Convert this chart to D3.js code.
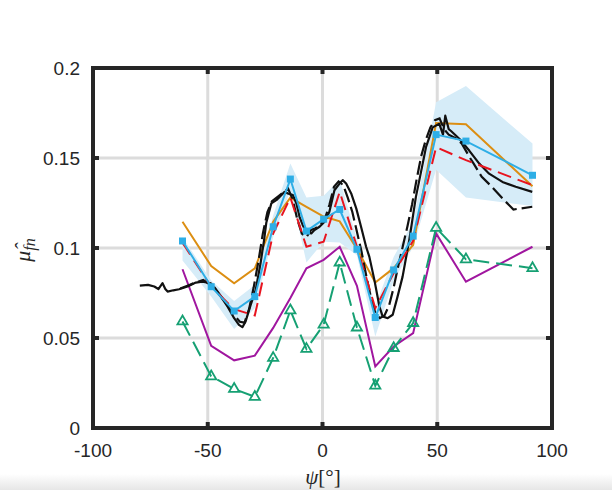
<!DOCTYPE html>
<html>
<head>
<meta charset="utf-8">
<script src="https://cdn.jsdelivr.net/npm/d3@7"></script>
<style>
  body { margin: 0; background: #fff; }
  text { font-family: "Liberation Sans", Arial, sans-serif; fill: #262626; }
</style>
</head>
<body>
<svg id="chart" width="612" height="490"></svg>
<script>
// angles shared by the model series
const psi = [-61, -48.5, -38.5, -29.5, -21.5, -14, -7, 0.5, 7.5, 15, 23, 31, 39.5, 49.5, 62.5, 91.5];

const cyanMean  = [0.1039, 0.0785, 0.065, 0.073, 0.1118, 0.1383, 0.1094, 0.1160, 0.1214, 0.0993, 0.0614, 0.0878, 0.1066, 0.1630, 0.1594, 0.1404];
const bandUpper = [0.106, 0.082, 0.0705, 0.0795, 0.118, 0.147, 0.128, 0.129, 0.138, 0.105, 0.0675, 0.095, 0.1146, 0.181, 0.190, 0.158];
const bandLower = [0.093, 0.073, 0.055, 0.0665, 0.106, 0.132, 0.092, 0.1035, 0.103, 0.096, 0.0508, 0.082, 0.1005, 0.1435, 0.128, 0.1233];
const orange    = [0.1146, 0.09, 0.0804, 0.0887, 0.1146, 0.128, 0.1229, 0.1175, 0.1148, 0.0995, 0.0808, 0.0888, 0.1017, 0.1694, 0.1687, 0.1343];
const purple    = [0.0882, 0.0457, 0.0376, 0.0402, 0.0556, 0.0722, 0.0887, 0.0934, 0.1007, 0.079, 0.0342, 0.0453, 0.0527, 0.1081, 0.0813, 0.1007];
const green     = [0.0592, 0.0287, 0.0217, 0.0173, 0.0389, 0.0653, 0.0439, 0.0574, 0.0919, 0.0558, 0.0235, 0.0444, 0.0583, 0.1112, 0.0937, 0.0888];
const red       = [0.1029, 0.0785, 0.066, 0.0625, 0.108, 0.128, 0.1007, 0.1035, 0.1312, 0.1007, 0.0666, 0.086, 0.104, 0.156, 0.1488, 0.1349];

// measured traces (black)
const measAx = [-79.6, -76, -73.3, -71.5, -69.7, -68.5, -67.5, -65, -62.5, -58.8, -55.2, -52.3, -48.7, -44.3, -41.4, -38.5, -36.4, -34.9, -33.5, -31.3, -29.1, -27, -25.5, -24.5, -22.3, -20.1, -18.7, -16.5, -15.1, -12.9, -11.4, -10, -8.6, -7.1, -4.9, -3.5, -1.3, 0.9, 3, 5.2, 7.4, 8.8, 10.3, 12.5, 14.7, 16.8, 19, 20.4, 22.6, 24.8, 26.2, 28.4, 30.6, 32.7, 34.9, 37.8, 40.7, 42.2, 45.1, 48, 50.9, 52.5, 53.5, 55, 56, 59.6, 64, 68.3, 72.6, 78.4, 84.2, 91.4];
const measAy = [0.0791, 0.0795, 0.0786, 0.0772, 0.0805, 0.0772, 0.0758, 0.0765, 0.0771, 0.0786, 0.0808, 0.0813, 0.0804, 0.073, 0.0675, 0.061, 0.0573, 0.056, 0.0592, 0.0684, 0.0767, 0.0915, 0.104, 0.114, 0.1248, 0.1266, 0.1284, 0.1312, 0.1303, 0.1294, 0.1248, 0.1173, 0.1127, 0.109, 0.1081, 0.11, 0.1118, 0.1146, 0.1201, 0.1321, 0.1358, 0.1377, 0.1358, 0.1303, 0.122, 0.1118, 0.1007, 0.0952, 0.0823, 0.0675, 0.062, 0.061, 0.0629, 0.073, 0.0841, 0.1044, 0.1284, 0.1377, 0.156, 0.167, 0.169, 0.163, 0.1735, 0.166, 0.165, 0.1607, 0.154, 0.1469, 0.1413, 0.1367, 0.134, 0.1312];

const measBx = [-62, -58, -55, -52, -47, -43, -39, -36, -34, -32, -30, -28, -26, -24, -22, -19, -17, -15, -13, -11, -9, -7, -5, -3, -1, 1, 3, 5, 7, 9, 11, 13, 15, 17, 19, 21, 23, 25, 27, 29, 31, 33, 35, 37, 39, 41, 43, 45, 47, 49, 51, 53, 55, 58, 60.7, 64.3, 65.8, 69.4, 73.8, 78.8, 83.2, 91.4];
const measBy = [0.0775, 0.0795, 0.081, 0.0822, 0.078, 0.071, 0.0635, 0.059, 0.0585, 0.066, 0.078, 0.092, 0.108, 0.12, 0.126, 0.129, 0.131, 0.133, 0.127, 0.116, 0.108, 0.106, 0.11, 0.111, 0.113, 0.116, 0.124, 0.134, 0.137, 0.135, 0.128, 0.12, 0.109, 0.098, 0.085, 0.073, 0.064, 0.061, 0.0625, 0.068, 0.078, 0.09, 0.101, 0.112, 0.124, 0.138, 0.151, 0.16, 0.167, 0.171, 0.172, 0.166, 0.163, 0.161, 0.158, 0.150, 0.147, 0.1395, 0.134, 0.127, 0.1214, 0.1229];

const xTicks = [-100, -50, 0, 50, 100];
const yTicks = [0, 0.05, 0.1, 0.15, 0.2];

const svg = d3.select("#chart");
const x = d3.scaleLinear().domain([-100, 100]).range([93, 552]);
const y = d3.scaleLinear().domain([0, 0.2]).range([428, 68]);

// faint shadow band at the bottom edge
const grad = svg.append("defs").append("linearGradient")
  .attr("id", "shade").attr("x1", 0).attr("y1", 0).attr("x2", 0).attr("y2", 1);
grad.append("stop").attr("offset", 0).attr("stop-color", "#fff");
grad.append("stop").attr("offset", 1).attr("stop-color", "#e6e6e6");
svg.append("rect").attr("x", 0).attr("y", 474).attr("width", 612).attr("height", 16)
  .attr("fill", "url(#shade)");

// grid
const grid = svg.append("g");
grid.selectAll("line.gx").data(xTicks.slice(1, -1)).enter().append("line")
  .attr("x1", d => x(d)).attr("x2", d => x(d)).attr("y1", y(0)).attr("y2", y(0.2))
  .attr("stroke", "#dcdcdc").attr("stroke-width", 3);
grid.selectAll("line.gy").data(yTicks.slice(1, -1)).enter().append("line")
  .attr("y1", d => y(d)).attr("y2", d => y(d)).attr("x1", x(-100)).attr("x2", x(100))
  .attr("stroke", "#dcdcdc").attr("stroke-width", 3);

const idx = d3.range(psi.length);
const line = (vals) => d3.line().x(i => x(psi[i])).y(i => y(vals[i]))(idx);

// spread band
const area = d3.area().x(i => x(psi[i])).y0(i => y(bandLower[i])).y1(i => y(bandUpper[i]));
svg.append("path").attr("d", area(idx)).attr("fill", "#d6ecf8");

svg.append("path").attr("d", line(purple)).attr("fill", "none")
  .attr("stroke", "#a0169f").attr("stroke-width", 2);

svg.append("path").attr("d", line(green)).attr("fill", "none")
  .attr("stroke", "#16a073").attr("stroke-width", 2).attr("stroke-dasharray", "16,7");
svg.selectAll("path.tri").data(idx).enter().append("path")
  .attr("class", "tri")
  .attr("d", d3.symbol().type(d3.symbolTriangle).size(45))
  .attr("transform", i => `translate(${x(psi[i])},${y(green[i])})`)
  .attr("fill", "none").attr("stroke", "#16a073").attr("stroke-width", 1.8);

svg.append("path").attr("d", line(orange)).attr("fill", "none")
  .attr("stroke", "#dc8e12").attr("stroke-width", 2);

const meas = d3.line().x(d => x(d[0])).y(d => y(d[1]));
svg.append("path").attr("d", meas(d3.zip(measAx, measAy))).attr("fill", "none")
  .attr("stroke", "#111").attr("stroke-width", 2.2).attr("stroke-linejoin", "round");
svg.append("path").attr("d", meas(d3.zip(measBx, measBy))).attr("fill", "none")
  .attr("stroke", "#111").attr("stroke-width", 2.2).attr("stroke-dasharray", "14,5");

svg.append("path").attr("d", line(red)).attr("fill", "none")
  .attr("stroke", "#e8141f").attr("stroke-width", 2).attr("stroke-dasharray", "14,7");

svg.append("path").attr("d", line(cyanMean)).attr("fill", "none")
  .attr("stroke", "#2eaee6").attr("stroke-width", 2);
svg.selectAll("rect.sq").data(idx).enter().append("rect")
  .attr("class", "sq")
  .attr("x", i => x(psi[i]) - 3.5).attr("y", i => y(cyanMean[i]) - 3.5)
  .attr("width", 7).attr("height", 7).attr("fill", "#2eaee6");

// frame and ticks
const frame = svg.append("g");
frame.append("rect").attr("x", x(-100)).attr("y", y(0.2))
  .attr("width", x(100) - x(-100)).attr("height", y(0) - y(0.2))
  .attr("fill", "none").attr("stroke", "#262626").attr("stroke-width", 4);
xTicks.slice(1, -1).forEach(t => {
  frame.append("line").attr("x1", x(t)).attr("x2", x(t)).attr("y1", y(0)).attr("y2", y(0) - 6)
    .attr("stroke", "#262626").attr("stroke-width", 4);
  frame.append("line").attr("x1", x(t)).attr("x2", x(t)).attr("y1", y(0.2)).attr("y2", y(0.2) + 6)
    .attr("stroke", "#262626").attr("stroke-width", 4);
});
yTicks.slice(1, -1).forEach(t => {
  frame.append("line").attr("x1", x(-100)).attr("x2", x(-100) + 6).attr("y1", y(t)).attr("y2", y(t))
    .attr("stroke", "#262626").attr("stroke-width", 4);
  frame.append("line").attr("x1", x(100)).attr("x2", x(100) - 6).attr("y1", y(t)).attr("y2", y(t))
    .attr("stroke", "#262626").attr("stroke-width", 4);
});

// tick labels
svg.selectAll("text.xt").data(xTicks).enter().append("text")
  .attr("x", d => x(d)).attr("y", 457).attr("text-anchor", "middle")
  .attr("font-size", 19).text(d => d);
svg.selectAll("text.yt").data(yTicks).enter().append("text")
  .attr("x", 80).attr("y", d => y(d) + 7).attr("text-anchor", "end")
  .attr("font-size", 19).text(d => d);

// axis titles
const xl = svg.append("text").attr("x", 323).attr("y", 484).attr("text-anchor", "middle")
  .style("font-family", "'Liberation Serif', 'DejaVu Serif', serif").attr("font-size", 21);
xl.append("tspan").attr("font-style", "italic").text("ψ");
xl.append("tspan").text("[°]");

const yl = svg.append("text").attr("transform", "translate(30,250) rotate(-90)")
  .attr("text-anchor", "middle")
  .style("font-family", "'Liberation Serif', 'DejaVu Serif', serif").attr("font-size", 22);
yl.append("tspan").attr("font-style", "italic").text("μ\u0302");
yl.append("tspan").attr("font-style", "italic").attr("font-size", 16).attr("dy", 5).text("fn");
</script>
</body>
</html>
